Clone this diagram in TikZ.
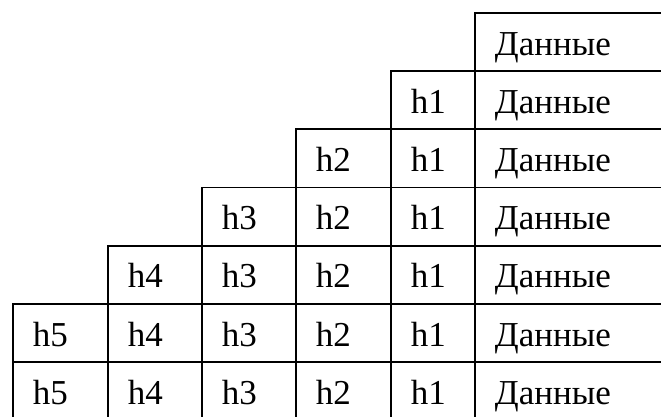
\documentclass[tikz,border=0pt]{standalone}
\usepackage{fontspec}
\setmainfont{Liberation Serif}

\tikzset{
  cell/.style={draw, line width=1.8pt, anchor=north west, align=left,
    minimum height=58.2pt, inner xsep=20pt, inner ysep=0pt,
    text height=26pt, text depth=0pt, font=\fontsize{35}{40}\selectfont},
}

\begin{document}
\begin{tikzpicture}[x=1pt,y=-1pt]
  \useasboundingbox (0,0) rectangle (661,416);
  \clip (0,0) rectangle (661,416);

  % one row per step, the stair grows to the left
  \foreach \r in {0,...,6}{
    \pgfmathsetmacro\ytop{12+58.2*\r}
    \node[cell, text width=206pt] (d\r) at (474,\ytop) {Данные};
    \foreach \k/\x/\tw in {1/390/44pt, 2/295/55pt, 3/201/54pt, 4/107/54pt, 5/12/55pt}{
      \ifnum\k>\r \else
        \node[cell, text width=\tw] (h\k r\r) at (\x,\ytop) {h\k};
      \fi
    }
  }
\end{tikzpicture}
\end{document}
